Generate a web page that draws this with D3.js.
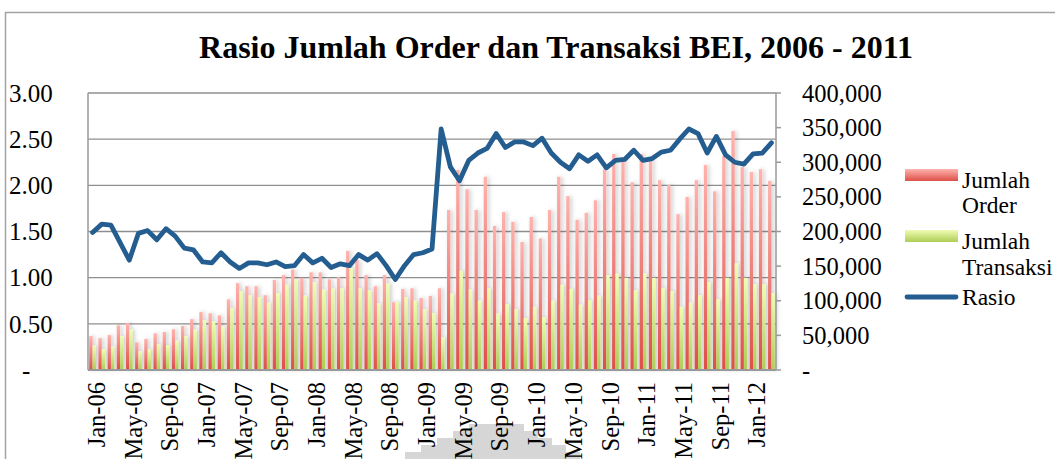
<!DOCTYPE html>
<html>
<head>
<meta charset="utf-8">
<script src="https://cdn.jsdelivr.net/npm/d3@7"></script>
<style>
  body { margin: 0; background: #fff; }
  svg text { font-family: "Liberation Serif", "Times New Roman", serif; fill: #000; }
</style>
</head>
<body>
<div id="chart"></div>
<script>
var fw = 1055;
var fh = 459;

// monthly data Jan-06 .. Mar-12
var monthNames = ["Jan","Feb","Mar","Apr","May","Jun","Jul","Aug","Sep","Oct","Nov","Dec"];
var months = [];
for (var yr = 6; yr <= 12; yr++) {
  for (var m = 0; m < 12; m++) {
    if (yr == 12 && m > 2) break;
    months.push(monthNames[m] + "-" + (yr < 10 ? "0" + yr : yr));
  }
}

var jumlahOrder = [
  49000, 46000, 50500, 64500, 68000, 40000, 45000, 53000, 55000, 59000, 63500, 73500,
  84000, 82000, 79000, 102000, 125500, 121000, 121000, 108000, 130000, 137000, 145000, 133000,
  141000, 141000, 131000, 134000, 172000, 159000, 137000, 121000, 137000, 98000, 117000, 118000,
  104000, 107000, 118000, 231000, 289000, 261000, 231000, 279000, 208000, 228000, 214000, 185000,
  221000, 190000, 231000, 279000, 251000, 217000, 227000, 245000, 290000, 312000, 305000, 271000,
  312000, 305000, 274000, 267000, 225000, 250000, 274000, 296000, 258000, 309000, 345000, 293000,
  286000, 290000, 273000
];

var jumlahTransaksi = [
  35000, 30000, 34000, 49000, 58000, 27000, 30000, 37500, 36000, 42000, 49000, 58000,
  72000, 70000, 62500, 89500, 114000, 108000, 105000, 97000, 111000, 123000, 131000, 107000,
  127000, 116000, 118000, 118000, 147000, 118000, 115000, 96000, 125000, 98000, 105000, 100000,
  88000, 82000, 47000, 110000, 143000, 116000, 100000, 118000, 81000, 95000, 88000, 75000,
  91000, 76500, 100000, 123000, 117000, 94000, 101000, 107000, 137000, 139000, 133000, 115000,
  139000, 133000, 118000, 114000, 91000, 97000, 108000, 127000, 102000, 133000, 154000, 133000,
  124000, 124000, 111000
];

var rasio = [
  1.49, 1.58, 1.57, 1.38, 1.19, 1.48, 1.51, 1.41, 1.53, 1.45, 1.32, 1.30,
  1.17, 1.16, 1.27, 1.17, 1.10, 1.16, 1.16, 1.14, 1.17, 1.12, 1.13, 1.25,
  1.16, 1.21, 1.11, 1.15, 1.13, 1.25, 1.19, 1.26, 1.13, 0.98, 1.13, 1.25,
  1.27, 1.31, 2.61, 2.20, 2.05, 2.27, 2.35, 2.40, 2.56, 2.41, 2.47, 2.47,
  2.43, 2.51, 2.35, 2.25, 2.18, 2.33, 2.26, 2.33, 2.19, 2.27, 2.28, 2.38,
  2.27, 2.29, 2.36, 2.38, 2.50, 2.61, 2.56, 2.35, 2.53, 2.33, 2.25, 2.23,
  2.34, 2.35, 2.46
];

var leftTicks = [0, 0.5, 1, 1.5, 2, 2.5, 3];
var rightTicks = [0, 50000, 100000, 150000, 200000, 250000, 300000, 350000, 400000];

var title = "Rasio Jumlah Order dan Transaksi BEI, 2006 - 2011";

var mar = { top: 93, right: 279, bottom: 89, left: 88 };
var w = fw - mar.left - mar.right;
var h = fh - mar.top - mar.bottom;

var svg = d3.select("#chart")
    .append("svg")
    .attr("width", fw)
    .attr("height", fh);

var defs = svg.append("defs");

function grad(id, top, bottom) {
  var g = defs.append("linearGradient")
      .attr("id", id)
      .attr("x1", 0).attr("y1", 0).attr("x2", 0).attr("y2", 1);
  g.append("stop").attr("offset", "0%").attr("stop-color", top);
  g.append("stop").attr("offset", "100%").attr("stop-color", bottom);
}
grad("gOrder", "#ffb3ae", "#dd4f48");
grad("gTrans", "#effcb4", "#aecd55");

var shadow = defs.append("filter")
    .attr("id", "shadow")
    .attr("x", "-100%").attr("y", "-10%")
    .attr("width", "300%").attr("height", "120%");
shadow.append("feDropShadow")
    .attr("dx", 2).attr("dy", 0)
    .attr("stdDeviation", 2)
    .attr("flood-color", "#000")
    .attr("flood-opacity", 0.22);

// outer chart border
svg.append("rect")
    .attr("x", 5.5).attr("y", 12.5)
    .attr("width", 1100).attr("height", 500)
    .attr("fill", "none")
    .attr("stroke", "#a3a3a3")
    .attr("stroke-width", 1.5);

// decorative grey blocks behind the x labels
var wm = svg.append("g").attr("fill", "#d6d6d6");
for (var s = 0; s < 5; s++) {
  wm.append("rect")
    .attr("x", 405 + s * 16)
    .attr("y", 459 - (s + 1) * 7)
    .attr("width", 175 - s * 30)
    .attr("height", (s + 1) * 7);
}

svg.append("text")
    .attr("x", 556)
    .attr("y", 58)
    .attr("text-anchor", "middle")
    .style("font-size", "32px")
    .style("font-weight", "bold")
    .text(title);

var g = svg.append("g")
    .attr("transform", "translate(" + mar.left + "," + mar.top + ")");

var x = d3.scaleBand()
    .domain(months)
    .range([0, w])
    .padding(0);

var xs = d3.scaleBand()
    .domain(["order", "trans"])
    .range([0, x.bandwidth()])
    .paddingInner(0)
    .paddingOuter(0.37);

var yL = d3.scaleLinear().domain([0, 3]).range([h, 0]);
var yR = d3.scaleLinear().domain([0, 400000]).range([h, 0]);

// gridlines
g.append("g")
    .selectAll("line")
    .data(leftTicks.filter(function(d) { return d > 0; }))
    .enter()
    .append("line")
    .attr("x1", 0).attr("x2", w)
    .attr("y1", function(d) { return yL(d); })
    .attr("y2", function(d) { return yL(d); })
    .attr("stroke", "#8f8f8f")
    .attr("stroke-width", 1.4);

// bars
var bars = g.append("g").attr("filter", "url(#shadow)");

bars.selectAll(".order")
    .data(jumlahOrder)
    .enter()
    .append("rect")
    .attr("class", "order")
    .attr("x", function(d, i) { return x(months[i]) + xs("order"); })
    .attr("width", xs.bandwidth())
    .attr("y", function(d) { return yR(d); })
    .attr("height", function(d) { return h - yR(d); })
    .attr("fill", "url(#gOrder)");

bars.selectAll(".trans")
    .data(jumlahTransaksi)
    .enter()
    .append("rect")
    .attr("class", "trans")
    .attr("x", function(d, i) { return x(months[i]) + xs("trans"); })
    .attr("width", xs.bandwidth())
    .attr("y", function(d) { return yR(d); })
    .attr("height", function(d) { return h - yR(d); })
    .attr("fill", "url(#gTrans)");

// axis lines
g.append("line").attr("x1", 0).attr("x2", 0).attr("y1", 0).attr("y2", h)
    .attr("stroke", "#9a9a9a").attr("stroke-width", 1.5);
g.append("line").attr("x1", w).attr("x2", w).attr("y1", 0).attr("y2", h)
    .attr("stroke", "#9a9a9a").attr("stroke-width", 1.5);
g.append("line").attr("x1", 0).attr("x2", w).attr("y1", h).attr("y2", h)
    .attr("stroke", "#9a9a9a").attr("stroke-width", 2);

// rasio line
var line = d3.line()
    .x(function(d, i) { return x(months[i]) + x.bandwidth() / 2; })
    .y(function(d) { return yL(d); });

g.append("path")
    .datum(rasio)
    .attr("d", line)
    .attr("fill", "none")
    .attr("stroke", "#245d8f")
    .attr("stroke-width", 4.8)
    .attr("stroke-linejoin", "round")
    .attr("stroke-linecap", "round");

// left axis labels
var fmtL = function(d) { return d == 0 ? "-" : d3.format(".2f")(d); };
g.append("g")
    .selectAll("text")
    .data(leftTicks)
    .enter()
    .append("text")
    .attr("x", function(d) { return d == 0 ? 22 - mar.left : 9 - mar.left; })
    .attr("y", function(d) { return yL(d); })
    .attr("dy", "0.35em")
    .style("font-size", "25px")
    .text(fmtL);

// right axis ticks + labels
var fmtR = function(d) { return d == 0 ? "-" : d3.format(",")(d); };
var ra = g.append("g").attr("transform", "translate(" + w + ",0)");
ra.selectAll("line")
    .data(rightTicks)
    .enter()
    .append("line")
    .attr("x1", 0).attr("x2", 5)
    .attr("y1", function(d) { return yR(d); })
    .attr("y2", function(d) { return yR(d); })
    .attr("stroke", "#9a9a9a")
    .attr("stroke-width", 1.5);
ra.selectAll("text")
    .data(rightTicks)
    .enter()
    .append("text")
    .attr("x", 26)
    .attr("y", function(d) { return yR(d); })
    .attr("dy", "0.35em")
    .style("font-size", "24.5px")
    .text(fmtR);

// x labels every 4 months
g.append("g")
    .selectAll("text")
    .data(months.filter(function(d, i) { return i % 4 == 0; }))
    .enter()
    .append("text")
    .attr("transform", function(d) {
      return "translate(" + (x(d) + x.bandwidth() / 2) + "," + (h + 12) + ") rotate(-90)";
    })
    .attr("text-anchor", "end")
    .attr("dy", "0.5em")
    .style("font-size", "24.5px")
    .text(function(d) { return d; });

// legend
var lg = svg.append("g").attr("transform", "translate(905,0)");
lg.append("rect").attr("x", 0).attr("y", 169).attr("width", 53).attr("height", 12)
    .attr("fill", "url(#gOrder)");
lg.append("rect").attr("x", 0).attr("y", 230).attr("width", 53).attr("height", 12)
    .attr("fill", "url(#gTrans)");
lg.append("line").attr("x1", 2).attr("x2", 51).attr("y1", 297).attr("y2", 297)
    .attr("stroke", "#245d8f").attr("stroke-width", 4.8).attr("stroke-linecap", "round");

var legendText = [["Jumlah", 188], ["Order", 213], ["Jumlah", 249], ["Transaksi", 275], ["Rasio", 305]];
lg.selectAll(".lt")
    .data(legendText)
    .enter()
    .append("text")
    .attr("class", "lt")
    .attr("x", 57)
    .attr("y", function(d) { return d[1]; })
    .style("font-size", "23.5px")
    .text(function(d) { return d[0]; });
</script>
</body>
</html>
